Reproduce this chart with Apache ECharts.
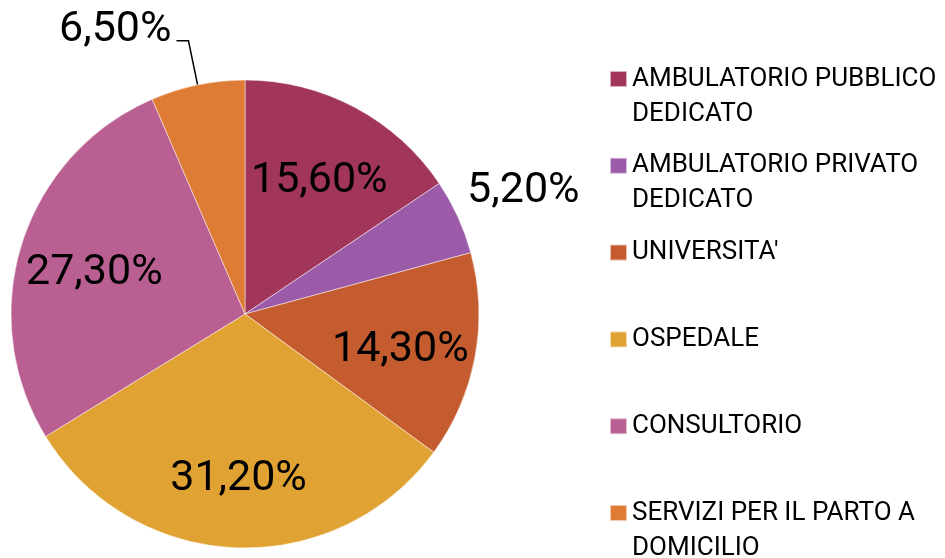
<!DOCTYPE html>
<html>
<head>
<meta charset="utf-8">
<script src="https://cdn.jsdelivr.net/npm/echarts@6/dist/echarts.min.js"></script>
<style>
  html, body { margin: 0; padding: 0; background: #fff; }
  #chart { width: 945px; height: 558px; }
</style>
</head>
<body>
<div id="chart"></div>
<script>
const categories = [
	'AMBULATORIO PUBBLICO DEDICATO',
	'AMBULATORIO PRIVATO DEDICATO',
	"UNIVERSITA'",
	'OSPEDALE',
	'CONSULTORIO',
	'SERVIZI PER IL PARTO A DOMICILIO'
];
const shares = [15.6, 5.2, 14.3, 31.2, 27.3, 6.5];
const colors = ['#a2365a', '#9b5ba8', '#c55c30', '#e0a232', '#b95f92', '#de7c35'];

const FONT = 'Roboto';
const CENTER = [245, 314];
const R = 234;

const fmt = v => v.toFixed(2).replace('.', ',') + '%';

// label placement: 'in' inside the slice, 'ring' outside w/o line, 'line' with leader line
const labelMode = ['in', 'ring', 'in', 'in', 'in', 'line'];

const pieData = categories.map((name, i) => ({
	name: name,
	value: shares[i],
	itemStyle: { color: colors[i] }
}));

const labelData = function (mode) {
	return categories.map((name, i) => ({
		name: name,
		value: shares[i],
		label: { show: labelMode[i] === mode }
	}));
};

const baseLabel = {
	color: '#000',
	fontFamily: FONT,
	fontSize: 43,
	lineHeight: 50,
	formatter: p => fmt(p.value)
};

const overlay = {
	type: 'pie',
	center: CENTER,
	silent: true,
	avoidLabelOverlap: false,
	startAngle: 90,
	itemStyle: { color: 'transparent', borderWidth: 0 },
	emphasis: { disabled: true },
	labelLine: { show: false },
	tooltip: { show: false }
};

const option = {
	animation: false,
	color: colors,
	series: [
		{
			type: 'pie',
			center: CENTER,
			radius: R,
			startAngle: 90,
			avoidLabelOverlap: false,
			itemStyle: { borderColor: 'rgba(255,255,255,0.6)', borderWidth: 0.8 },
			emphasis: { scale: false },
			label: Object.assign({}, baseLabel, {
				position: 'outside',
				distanceToLabelLine: 5,
				// blank second line lifts the value above the leader line
				formatter: p => '{v|' + fmt(p.value) + '}\n{s| }',
				rich: {
					v: { fontFamily: FONT, fontSize: 43, lineHeight: 50, color: '#000' },
					s: { fontSize: 10, lineHeight: 22 }
				}
			}),
			labelLine: {
				show: true,
				length: 45,
				length2: 12,
				lineStyle: { color: '#000', width: 1.5 }
			},
			data: pieData.map((d, i) => Object.assign({}, d, {
				label: { show: labelMode[i] === 'line' }
			}))
		},
		Object.assign({}, overlay, {
			radius: [76, R],
			label: Object.assign({}, baseLabel, { position: 'inside', offset: [0, 7] }),
			data: labelData('in')
		}),
		Object.assign({}, overlay, {
			radius: [R, 372],
			label: Object.assign({}, baseLabel, { position: 'inside', offset: [0, 4] }),
			data: labelData('ring')
		})
	],
	legend: categories.map((name, i) => {
		const words = name.split(' ');
		const twoLine = name.length > 20;
		// blank first line keeps the marker level with the first text line
		const text = twoLine
			? ' \n' + words.slice(0, -1).join(' ') + '\n' + words[words.length - 1]
			: name;
		const cy = 79 + 86.8 * i;
		return {
			left: 609,
			top: cy - (twoLine ? 52.5 : 17.5),
			padding: 0,
			itemWidth: 17,
			itemHeight: 16,
			icon: 'rect',
			data: [name],
			formatter: () => text,
			textStyle: {
				color: '#000',
				fontFamily: FONT,
				fontSize: 26,
				lineHeight: 35
			}
		};
	})
};

const chart = echarts.init(document.getElementById('chart'));
chart.setOption(option);
</script>
</body>
</html>
